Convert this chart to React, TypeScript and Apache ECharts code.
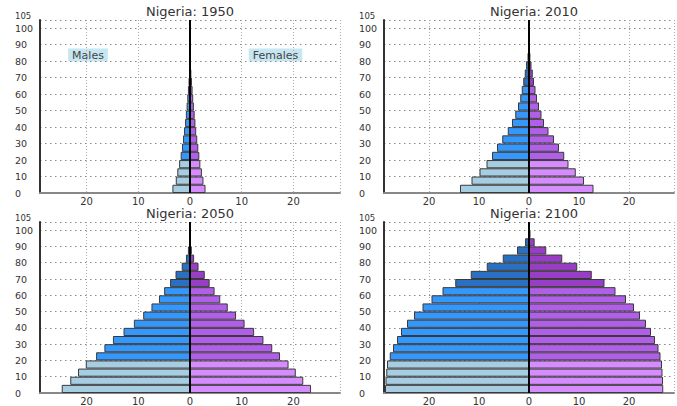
import React, { useEffect, useRef } from "react";
import * as echarts from "echarts";

const AGES = ["0-4","5-9","10-14","15-19","20-24","25-29","30-34","35-39","40-44","45-49","50-54","55-59","60-64","65-69","70-74","75-79","80-84","85-89","90-94","95-99","100+"];

const YEARS = ["1950", "2010", "2050", "2100"];

const MALES_1950 = [3.4, 2.75, 2.45, 2.1, 1.8, 1.55, 1.35, 1.15, 0.95, 0.8, 0.65, 0.52, 0.4, 0.28, 0.18, 0.1, 0.05, 0.02, 0.01, 0, 0];
const FEMALES_1950 = [3.0, 2.6, 2.3, 2.0, 1.8, 1.6, 1.4, 1.2, 1.05, 0.9, 0.75, 0.62, 0.5, 0.38, 0.26, 0.15, 0.08, 0.03, 0.01, 0, 0];

const MALES_2010 = [13.8, 11.5, 9.9, 8.5, 7.4, 6.4, 5.35, 4.25, 3.4, 2.75, 2.2, 1.75, 1.45, 1.15, 0.85, 0.58, 0.3, 0.12, 0.04, 0.01, 0];
const FEMALES_2010 = [12.9, 11.0, 9.35, 7.9, 7.05, 6.0, 5.0, 3.9, 3.0, 2.5, 2.0, 1.6, 1.3, 1.0, 0.75, 0.5, 0.28, 0.12, 0.04, 0.01, 0];

const MALES_2050 = [24.8, 23.15, 21.65, 20.15, 18.15, 16.55, 14.9, 12.85, 10.85, 9.05, 7.45, 6.0, 5.0, 3.85, 2.8, 1.6, 0.78, 0.4, 0.15, 0.04, 0.01];
const FEMALES_2050 = [23.4, 21.9, 20.45, 19.05, 17.4, 15.9, 14.2, 12.4, 10.55, 8.9, 7.3, 5.85, 4.75, 3.8, 2.85, 1.65, 0.8, 0.35, 0.12, 0.03, 0.01];

const MALES_2100 = [28.8, 28.7, 28.55, 28.4, 27.85, 27.2, 26.4, 25.6, 24.4, 23.0, 21.3, 19.5, 17.3, 14.75, 11.65, 8.45, 5.25, 2.4, 0.78, 0.2, 0.05];
const FEMALES_2100 = [26.85, 26.8, 26.7, 26.6, 26.3, 25.9, 25.2, 24.4, 23.4, 22.2, 21.0, 19.4, 17.3, 15.1, 12.55, 9.65, 6.65, 3.45, 1.13, 0.3, 0.06];

const MALES = [MALES_1950, MALES_2010, MALES_2050, MALES_2100];
const FEMALES = [FEMALES_1950, FEMALES_2010, FEMALES_2050, FEMALES_2100];

const X_TICK_LABELS = ["20", "10", "0", "10", "20"];
const Y_MAX = 105;

const FONT = '"DejaVu Sans", Verdana, sans-serif';

const MALE_COLORS = ["#a6cde1", "#3397fb", "#2a70c2"];
const FEMALE_COLORS = ["#d68cff", "#b15ee9", "#9a3dc6"];

function groupOf(i: number) {
  if (i < 4) return 0;
  if (i < 13) return 1;
  return 2;
}

const GRIDS = [
  { left: 40, top: 20, width: 300, height: 173 },
  { left: 384, top: 20, width: 300, height: 173 },
  { left: 40, top: 222, width: 300, height: 173 },
  { left: 384, top: 222, width: 300, height: 173 },
];

export default function App() {
  const ref = useRef<HTMLDivElement>(null);

  useEffect(() => {
    if (!ref.current) return;
    const chart = echarts.init(ref.current, undefined, { renderer: "svg" });

    const xAxis: any[] = [];
    const yAxis: any[] = [];
    const series: any[] = [];
    const graphic: any[] = [];

    const yLabel = {
      color: "#333",
      fontSize: 9.5,
      fontFamily: FONT,
      align: "left",
      margin: 25,
    };

    GRIDS.forEach((g, p) => {
      xAxis.push({
        type: "value",
        gridIndex: p,
        min: -29,
        max: 29,
        axisLine: { show: true, onZero: false, lineStyle: { color: "#888", width: 2 } },
        axisTick: { show: false },
        axisLabel: {
          color: "#333",
          fontSize: 10,
          fontFamily: FONT,
          margin: 3,
          formatter: (v: number) => {
            if (Math.abs(v) % 10 !== 0) return "";
            const s = String(Math.abs(v));
            return X_TICK_LABELS.indexOf(s) >= 0 ? s : "";
          },
        },
        splitLine: { show: true, lineStyle: { type: [1, 2], color: "#aaa", width: 1 } },
      });
      const base = yAxis.length;
      // main value axis: 0..100 labels + grid lines (incl. 105)
      yAxis.push({
        type: "value",
        gridIndex: p,
        min: 0,
        max: Y_MAX,
        interval: 10,
        position: "left",
        axisLine: { show: true, onZero: false, lineStyle: { color: "#333", width: 2 } },
        axisTick: { show: false },
        axisLabel: { ...yLabel, showMaxLabel: false, lineHeight: 10 },
        splitLine: { show: true, lineStyle: { type: [1.5, 3.5], color: "#888", width: 1 } },
      });
      // axis that only labels the top (105)
      yAxis.push({
        type: "value",
        gridIndex: p,
        min: 0,
        max: Y_MAX,
        interval: Y_MAX,
        position: "left",
        axisLine: { show: false, onZero: false },
        axisTick: { show: false },
        splitLine: { show: false },
        axisLabel: {
          ...yLabel,
          fontSize: 8.5,
          lineHeight: 9,
          showMinLabel: false,
          showMaxLabel: true,
          verticalAlign: "bottom",
        },
      });
      // hidden category axis for the age groups
      yAxis.push({
        type: "category",
        gridIndex: p,
        data: AGES,
        show: false,
      });
      const catIdx = base + 2;

      series.push({
        type: "bar",
        name: "Males " + YEARS[p],
        xAxisIndex: p,
        yAxisIndex: catIdx,
        barWidth: "100%",
        barGap: "-100%",
        itemStyle: { borderColor: "#3a3a3a", borderWidth: 1 },
        data: MALES[p].map((v, i) => ({ value: -v, itemStyle: { color: MALE_COLORS[groupOf(i)] } })),
      });
      series.push({
        type: "bar",
        name: "Females " + YEARS[p],
        xAxisIndex: p,
        yAxisIndex: catIdx,
        barWidth: "100%",
        barGap: "-100%",
        itemStyle: { borderColor: "#3a3a3a", borderWidth: 1 },
        data: FEMALES[p].map((v, i) => ({ value: v, itemStyle: { color: FEMALE_COLORS[groupOf(i)] } })),
        markLine: {
          silent: true,
          symbol: ["none", "none"],
          label: { show: false },
          lineStyle: { color: "#000", width: 2, type: "solid" },
          data: [{ xAxis: 0 }],
        },
      });

      graphic.push({
        type: "text",
        x: g.left + 150,
        y: g.top - 9,
        style: {
          text: "Nigeria: " + YEARS[p],
          font: `13px ${FONT}`,
          fill: "#333",
          align: "center",
          verticalAlign: "middle",
          textAlign: "center",
          textVerticalAlign: "middle",
        },
      });
    });

    graphic.push({
      type: "text",
      x: 88,
      y: 55,
      style: {
        text: "Males",
        font: `11px ${FONT}`,
        fill: "#444",
        backgroundColor: "#c6e6f2",
        padding: [1, 4],
        align: "center",
        verticalAlign: "middle",
        textAlign: "center",
        textVerticalAlign: "middle",
      },
    });
    graphic.push({
      type: "text",
      x: 275.5,
      y: 55,
      style: {
        text: "Females",
        font: `11px ${FONT}`,
        fill: "#444",
        backgroundColor: "#c6e6f2",
        padding: [1, 4],
        align: "center",
        verticalAlign: "middle",
        textAlign: "center",
        textVerticalAlign: "middle",
      },
    });

    chart.setOption({
      animation: false,
      backgroundColor: "#ffffff",
      grid: GRIDS.map((g) => ({ ...g, containLabel: false })),
      xAxis,
      yAxis,
      series,
      graphic,
    });

    return () => chart.dispose();
  }, []);

  return (
    <div
      ref={ref}
      style={{ position: "fixed", left: 0, top: 0, width: 677, height: 406 }}
    />
  );
}
